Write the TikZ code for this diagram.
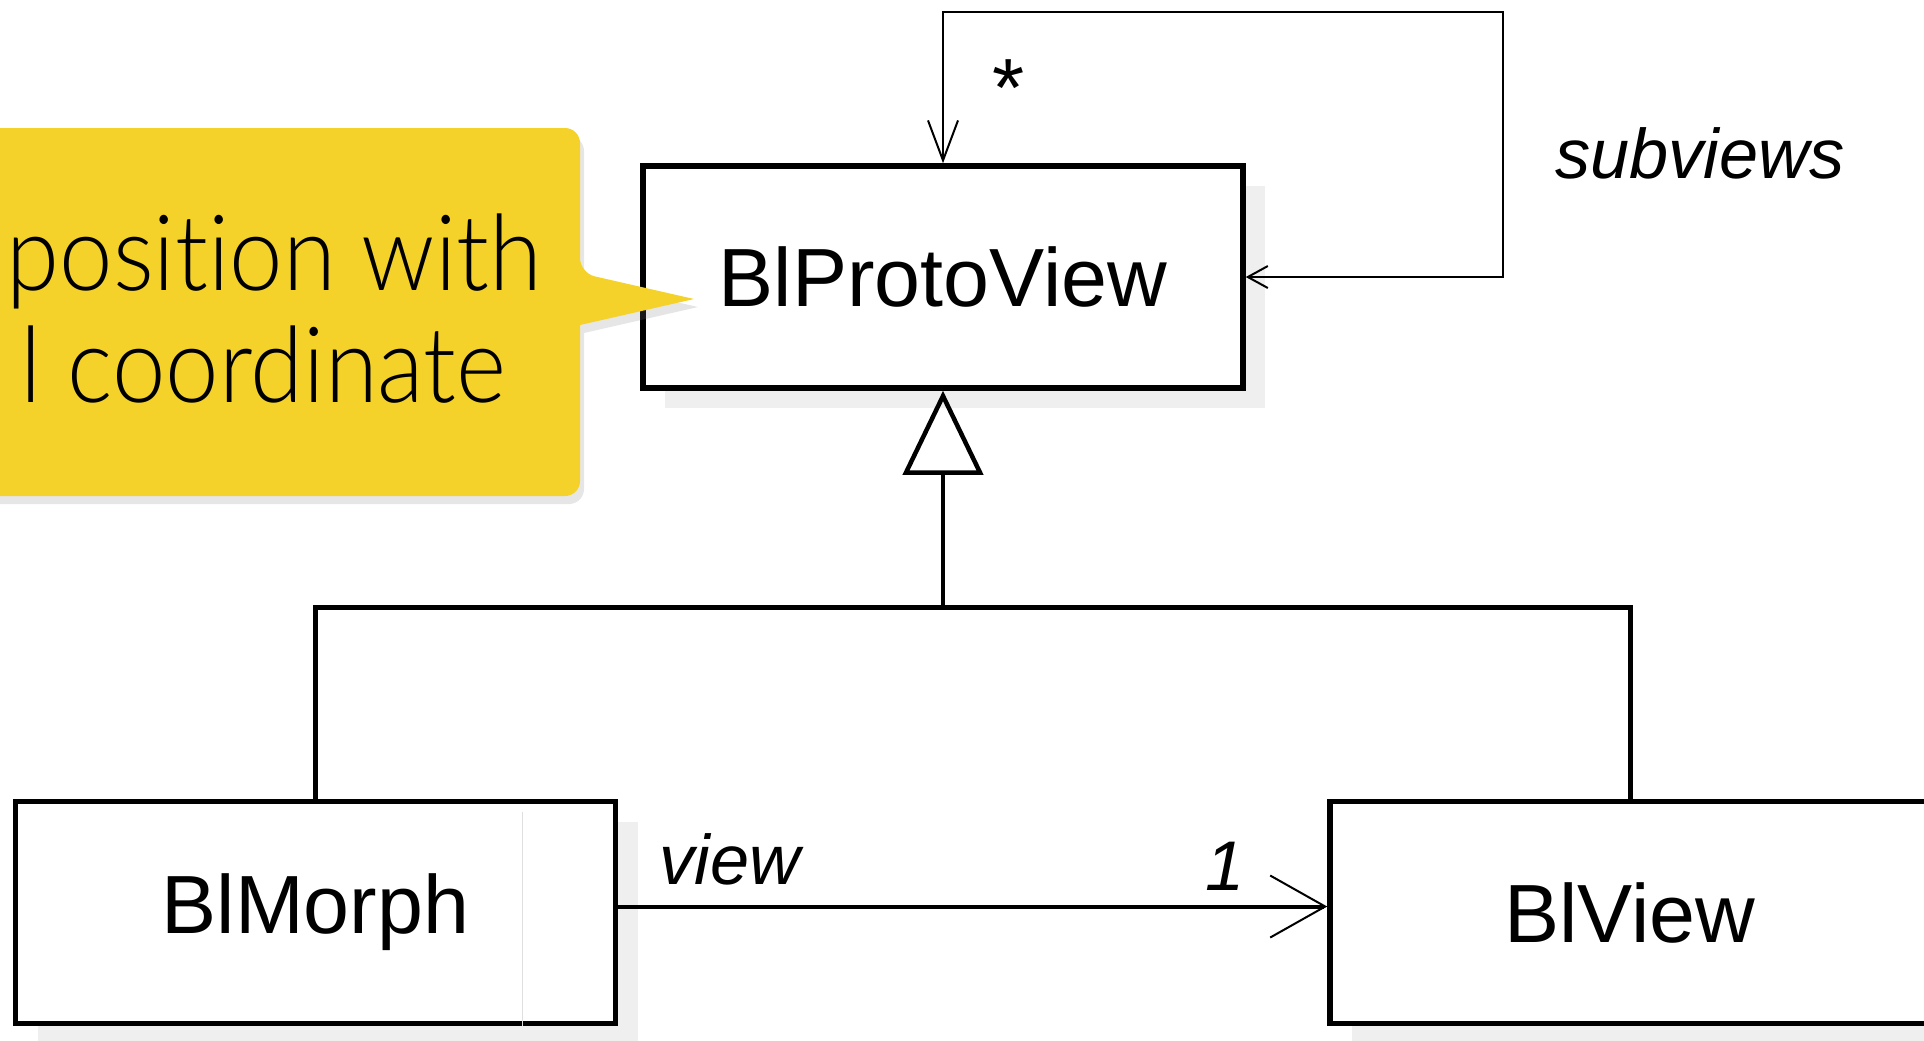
\documentclass[tikz,border=0pt]{standalone}
\usepackage{fontspec}
\setmainfont{Liberation Sans}
\newfontfamily\calloutfamily{Lato Light}[FakeStretch=0.91, Ligatures=NoCommon]
\usetikzlibrary{arrows.meta, positioning, shadows}
\definecolor{noteyellow}{HTML}{F4D22A}
\definecolor{shadowgray}{HTML}{EFEFEF}
\newcommand{\classfont}{\fontsize{23.5}{28}\selectfont}
\newcommand{\rolefont}{\fontsize{20}{24}\selectfont\itshape}
\newcommand{\calloutfont}{\calloutfamily\fontsize{30}{34}\selectfont}
\tikzstyle{umlclass} = [rectangle, draw, line width=0.55mm, fill=white, minimum width=60mm, minimum height=22.2mm, text centered, font=\classfont, drop shadow={shadow xshift=2.2mm, shadow yshift=-2mm, fill=shadowgray, opacity=1}]
\tikzstyle{role} = [font=\rolefont, inner sep=0pt]
\tikzstyle{notetext} = [font=\calloutfont, inner sep=0pt]
\tikzstyle{note} = [fill=noteyellow, drop shadow={shadow xshift=0.4mm, shadow yshift=-0.8mm, opacity=0.2}]
\tikzstyle{gen} = [line width=0.5mm]
\tikzstyle{inherit} = [line width=0.45mm, -{Triangle[open, length=8.4mm, width=8mm]}]
\tikzstyle{assoc} = [line width=0.4mm, -{Straight Barb[length=5.5mm, width=6.2mm, line width=0.2mm]}]
\tikzstyle{selfref} = [line width=0.2mm, {Straight Barb[length=2mm, width=2.2mm]}-{Straight Barb[length=4mm, width=3mm]}]
\begin{document}
\begin{tikzpicture}[x=0.1mm, y=-0.1mm]
  \useasboundingbox (0,0) rectangle (1924,1040);
  \clip (0,0) rectangle (1924,1040);
  \node (proto) [umlclass] at (943,277) {BlProtoView};
  \node (morph) [umlclass] at (315.5,912.5) {BlMorph};
  \node (view) [umlclass, right = 70.9mm of morph] {BlView};
  \coordinate (join) at (943,607);
  \coordinate (loop) at (1503,12);
  \draw [gray!25, line width=0.15mm] ([xshift=-9.6mm, yshift=-1.3mm]morph.north east) -- ([xshift=-9.6mm]morph.south east);
  \draw [inherit] (join) -- (proto.south);
  \draw [gen] (morph.north) |- (join) -| (view.north);
  \draw [selfref] (proto.east) -| (loop) -| (proto.north);
  \node (many) [role, font=\classfont] at (1009,88) {*};
  \node (subviews) [role] at (1700,153) {subviews};
  \draw [assoc] ([yshift=0.6mm]morph.east) -- ([yshift=0.6mm]view.west);
  \node (viewrole) [role] at (730,859) {view};
  \node (one) [role] at (1225,866) {1};
  \fill [note, rounded corners=1.5mm] (-40,128) -- (580,128) -- (580,273) [sharp corners] -- (694,299) -- (580,325) [rounded corners=1.5mm] -- (580,496) -- (-40,496) -- cycle;
  \node (noteline1) [notetext, anchor=base west] at (6,290) {position with};
  \node (noteline2) [notetext, anchor=base east] at (507,402) {l coordinate};
\end{tikzpicture}
\end{document}
